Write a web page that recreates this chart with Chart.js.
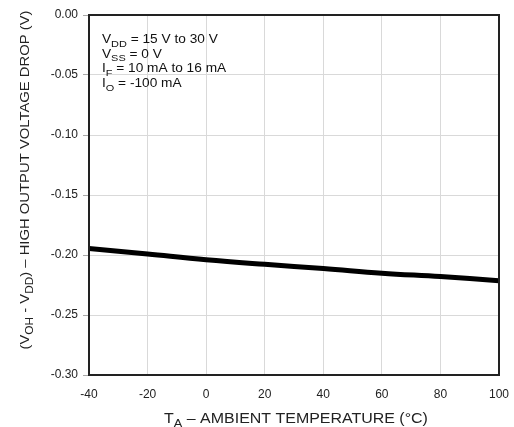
<!DOCTYPE html>
<html>
<head>
<meta charset="utf-8">
<script src="https://cdn.jsdelivr.net/npm/chart.js@4/dist/chart.umd.min.js"></script>
<style>
html,body{margin:0;padding:0;background:#fff;}
#wrap{width:514px;height:427px;position:relative;}
</style>
</head>
<body>
<div id="wrap"><canvas id="c" width="514" height="427"></canvas></div>
<script>
const temperatures = [-40, -20, 0, 20, 40, 60, 80, 100];
const voltageDrop = [-0.1945, -0.1992, -0.2040, -0.2078, -0.2112, -0.2152, -0.2180, -0.2214];
const xTicks = [-40, -20, 0, 20, 40, 60, 80, 100];
const yTicks = [0, -0.05, -0.10, -0.15, -0.20, -0.25, -0.30];
const conditions = [
  [['V'], ['DD', 1], [' = 15 V to 30 V']],
  [['V'], ['SS', 1], [' = 0 V']],
  [['I'], ['F', 1], [' = 10 mA to 16 mA']],
  [['I'], ['O', 1], [' = -100 mA']]
];
const yTitle = [['(V'], ['OH', 1], [' - V'], ['DD', 1], [') – HIGH OUTPUT VOLTAGE DROP (V)']];
const xTitle = [['T'], ['A', 1], [' – AMBIENT TEMPERATURE (°C)']];

const FONT = '"Liberation Sans", Arial, sans-serif';
const STRETCH = 1.14;

function segWidth(ctx, segs, size) {
  let w = 0;
  for (const s of segs) {
    ctx.font = (s[1] ? size * 0.8 : size) + 'px ' + FONT;
    w += ctx.measureText(s[0]).width;
  }
  return w * STRETCH;
}
function drawSegs(ctx, segs, x, y, size) {
  ctx.save();
  ctx.translate(x, y);
  ctx.scale(STRETCH, 1);
  ctx.textBaseline = 'alphabetic';
  ctx.textAlign = 'left';
  let cx = 0;
  for (const s of segs) {
    const sz = s[1] ? size * 0.8 : size;
    ctx.font = sz + 'px ' + FONT;
    ctx.fillText(s[0], cx, s[1] ? size * 0.3 : 0);
    cx += ctx.measureText(s[0]).width;
  }
  ctx.restore();
}

const textPlugin = {
  id: 'richText',
  afterDraw(chart) {
    const ctx = chart.ctx;
    const a = chart.chartArea;
    ctx.save();
    ctx.fillStyle = '#111';
    conditions.forEach((line, i) => {
      drawSegs(ctx, line, a.left + 13, 43 + i * 14.7, 12);
    });
    ctx.fillStyle = '#222';
    const wx = segWidth(ctx, xTitle, 14);
    drawSegs(ctx, xTitle, 296 - wx / 2, 423, 14);
    const wy = segWidth(ctx, yTitle, 13);
    ctx.translate(29, 180);
    ctx.rotate(-Math.PI / 2);
    drawSegs(ctx, yTitle, -wy / 2, 0, 13);
    ctx.restore();
  }
};

new Chart(document.getElementById('c'), {
  type: 'line',
  data: {
    datasets: [{
      data: temperatures.map((t, i) => ({x: t, y: voltageDrop[i]})),
      borderColor: '#000',
      borderWidth: 5,
      pointRadius: 0,
      tension: 0.4,
      fill: false
    }]
  },
  options: {
    responsive: false,
    animation: false,
    layout: {padding: {top: 15, right: 15, left: 0, bottom: 0}},
    plugins: {legend: {display: false}, tooltip: {enabled: false}},
    scales: {
      x: {
        type: 'linear',
        min: -40, max: 100,
        afterBuildTicks(s) { s.ticks = xTicks.map(v => ({value: v})); },
        afterFit(s) { s.height = 52; s.paddingLeft = 0; s.paddingRight = 0; },
        grid: {color: '#d9d9d9', lineWidth: 1, drawTicks: false},
        border: {color: '#222', width: 2},
        ticks: {color: '#222', font: {family: FONT, size: 12}, padding: 12,
          maxRotation: 0, autoSkip: false,
          callback: v => String(v)}
      },
      y: {
        type: 'linear',
        min: -0.30, max: 0,
        afterBuildTicks(s) { s.ticks = yTicks.map(v => ({value: v})); },
        afterFit(s) { s.width = 89; s.paddingTop = 0; s.paddingBottom = 0; },
        grid: {color: '#d9d9d9', lineWidth: 1, tickLength: 6, tickColor: '#aaa'},
        border: {color: '#222', width: 2},
        ticks: {color: '#222', font: {family: FONT, size: 12}, padding: 5,
          callback: v => v.toFixed(2)}
      }
    }
  },
  plugins: [textPlugin, {
    id: 'frame',
    afterDatasetsDraw(chart) {
      const a = chart.chartArea, ctx = chart.ctx;
      ctx.save();
      ctx.strokeStyle = '#222';
      ctx.lineWidth = 2;
      ctx.strokeRect(a.left, a.top, a.right - a.left, a.bottom - a.top);
      ctx.restore();
    }
  }]
});
</script>
</body>
</html>
